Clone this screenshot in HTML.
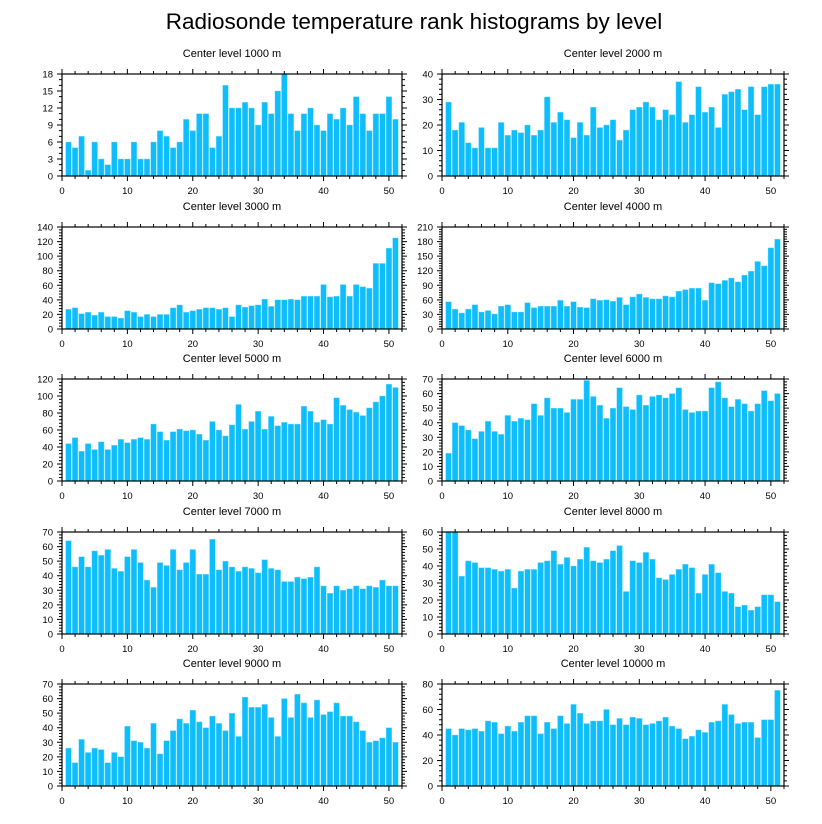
<!DOCTYPE html>
<html><head><meta charset="utf-8"><style>
body{margin:0;background:#fff}
svg{display:block;font-family:"Liberation Sans",sans-serif}
</style></head><body>
<svg id="chart" width="822" height="824" viewBox="0 0 822 824">
<text x="414" y="29" text-anchor="middle" font-size="22.5">Radiosonde temperature rank histograms by level</text>
</svg>
<script>
const panelTitles = ["Center level 1000 m","Center level 2000 m","Center level 3000 m","Center level 4000 m","Center level 5000 m","Center level 6000 m","Center level 7000 m","Center level 8000 m","Center level 9000 m","Center level 10000 m"];
const xTicks = [0,10,20,30,40,50];
const yMax = [18,40,140,210,120,70,70,60,70,80];
const yStep = [3,10,20,30,20,10,10,10,10,20];
const v1000 = [6,5,7,1,6,3,2,6,3,3,6,3,3,6,8,7,5,6,10,8,11,11,5,7,16,12,12,13,12,9,13,11,15,18,11,8,11,12,9,8,11,10,12,9,14,11,8,11,11,14,10];
const v2000 = [29,18,21,13,11,19,11,11,21,16,18,17,20,16,18,31,21,25,22,15,21,16,27,19,20,22,14,18,26,27,29,27,22,26,24,37,21,24,35,25,27,19,32,33,34,26,35,24,35,36,36];
const v3000 = [27,29,21,23,19,23,17,17,15,25,23,17,20,17,20,20,29,33,23,25,27,29,29,27,29,17,33,30,32,33,41,31,40,40,41,40,45,45,45,61,44,45,61,45,61,58,56,90,90,111,125];
const v4000 = [56,41,33,41,50,35,38,31,47,50,35,35,54,44,47,47,47,59,47,56,45,44,62,59,60,57,65,50,66,72,65,62,62,68,66,78,81,84,84,59,95,93,100,105,97,111,119,139,130,167,185];
const v5000 = [44,51,35,44,37,46,37,42,49,45,49,51,49,67,58,48,58,61,59,60,55,48,70,60,53,66,90,61,70,82,61,76,65,69,67,67,88,82,69,72,67,98,89,84,81,77,86,93,100,114,110];
const v6000 = [19,40,38,35,29,34,41,34,32,45,41,43,42,53,45,57,50,50,47,56,56,69,58,52,43,50,64,51,49,59,52,58,59,57,60,64,49,47,48,48,64,68,57,51,56,53,48,53,62,55,60];
const v7000 = [64,46,53,46,57,54,58,45,43,53,58,49,37,32,49,47,58,44,49,58,41,41,65,44,50,46,43,46,45,42,51,45,44,36,36,39,38,39,46,33,28,33,30,31,33,31,33,32,37,33,33];
const v8000 = [60,60,34,43,42,39,39,38,37,38,27,37,38,38,42,43,49,41,45,40,44,51,43,42,44,49,52,25,43,42,48,44,33,32,35,38,41,39,24,35,41,36,25,24,16,17,14,16,23,23,19];
const v9000 = [26,16,32,23,26,25,16,23,20,41,31,30,26,43,22,31,38,46,43,52,44,40,48,43,38,50,34,61,54,54,56,47,34,60,47,63,57,47,59,49,51,57,48,48,44,38,30,31,33,40,30];
const v10000 = [45,40,45,44,45,43,51,50,41,47,43,50,55,55,41,50,45,55,49,64,57,49,51,51,60,48,53,48,54,53,48,49,51,54,47,45,37,39,44,42,50,51,64,56,49,50,50,38,52,52,75];
const series = [v1000,v2000,v3000,v4000,v5000,v6000,v7000,v8000,v9000,v10000];

const NS="http://www.w3.org/2000/svg";
const svg=document.getElementById('chart');
const colX=[62,442], colW=[340,342], rowY=[74,227,379,532,684], PH=102, XMAX=52;
function mk(tag,attrs,parent){const e=document.createElementNS(NS,tag);for(const k in attrs)e.setAttribute(k,attrs[k]);parent.appendChild(e);return e;}
series.forEach((vals,i)=>{
  const c=i%2, r=Math.floor(i/2);
  const x0=colX[c], w=colW[c], y0=rowY[r];
  const g=mk('g',{},svg);
  
  
  const sx=v=>x0+v/XMAX*w, sy=v=>y0+PH-v/yMax[i]*PH;
  const t=mk('text',{x:x0+w/2,y:y0-17,'text-anchor':'middle','font-size':'11'},g);
  
  
  t.textContent=panelTitles[i];
  vals.forEach((v,k)=>{
    const xc=k+1, bw=0.86;
    const b=mk('rect',{x:sx(xc-bw/2),y:sy(v),width:sx(bw)-sx(0),height:sy(0)-sy(v),fill:'#0ebefc',stroke:'#7fdcff','stroke-width':'0.4'},g);
    
    
  });
  const f=mk('rect',{x:x0,y:y0,width:w,height:PH,fill:'none',stroke:'#000','stroke-width':'1.2'},g);
  
  
  let d='';
  for(let xv=0;xv<=XMAX;xv+=2){const X=sx(xv),L=(xv%10===0)?5:3;d+=`M${X} ${y0+PH}v${L}M${X} ${y0}v${-L}`;}
  const ym=yStep[i]/ (yStep[i]%3===0&&yStep[i]!==30?3:(yStep[i]===30?6:5));
  for(let yv=0;yv<=yMax[i]+1e-9;yv+=ym){const Y=sy(yv),maj=Math.abs(yv/yStep[i]-Math.round(yv/yStep[i]))<1e-6,L=maj?5:3;d+=`M${x0} ${Y}h${-L}M${x0+w} ${Y}h${L}`;}
  const tk=mk('path',{d:d,stroke:'#000','stroke-width':'1',fill:'none'},g);
  
  
  xTicks.forEach(xv=>{
    const l=mk('text',{x:sx(xv),y:y0+PH+18,'text-anchor':'middle','font-size':'9.5'},g);
    
    
    l.textContent=xv;
  });
  for(let yv=0;yv<=yMax[i];yv+=yStep[i]){
    const l=mk('text',{x:x0-9,y:sy(yv)+3.5,'text-anchor':'end','font-size':'9.5'},g);
    
    
    l.textContent=yv;
  }
});
</script>
</body></html>
